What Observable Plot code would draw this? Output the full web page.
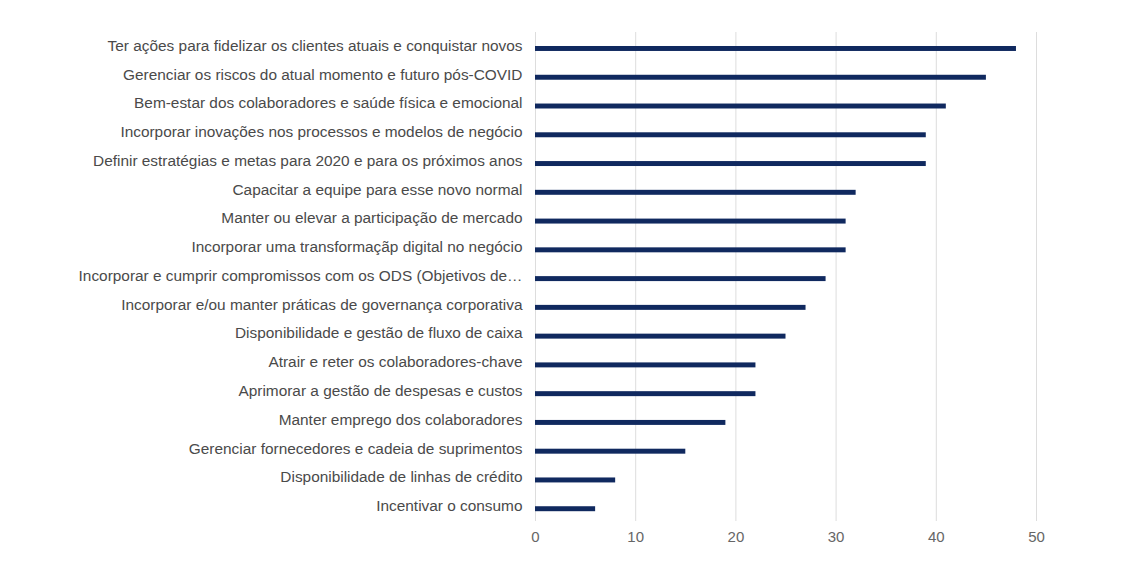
<!DOCTYPE html>
<html><head><meta charset="utf-8">
<script src="https://cdn.jsdelivr.net/npm/d3@7"></script>
<script src="https://cdn.jsdelivr.net/npm/@observablehq/plot@0.6"></script>
<style>body{margin:0;background:#fff}</style>
</head><body><div id="c"></div>
<script>
const categories = [
"Ter ações para fidelizar os clientes atuais e conquistar novos",
"Gerenciar os riscos do atual momento e futuro pós-COVID",
"Bem-estar dos colaboradores e saúde física e emocional",
"Incorporar inovações nos processos e modelos de negócio",
"Definir estratégias e metas para 2020 e para os próximos anos",
"Capacitar a equipe para esse novo normal",
"Manter ou elevar a participação de mercado",
"Incorporar uma transformaçãp digital no negócio",
"Incorporar e cumprir compromissos com os ODS (Objetivos de…",
"Incorporar e/ou manter práticas de governança corporativa",
"Disponibilidade e gestão de fluxo de caixa",
"Atrair e reter os colaboradores-chave",
"Aprimorar a gestão de despesas e custos",
"Manter emprego dos colaboradores",
"Gerenciar fornecedores e cadeia de suprimentos",
"Disponibilidade de linhas de crédito",
"Incentivar o consumo"];
const values = [48,45,41,39,39,32,31,31,29,27,25,22,22,19,15,8,6];
const xTicks = [0,10,20,30,40,50];
const data = categories.map((c,i)=>({c, v: values[i]}));
const chart = Plot.plot({
  width:1131, height:569,
  marginLeft:535, marginRight:95, marginTop:32, marginBottom:48,
  style:{fontFamily:"Liberation Sans, Arial, sans-serif", fontSize:"15.4px", color:"#444"},
  x:{domain:[0,50], ticks:xTicks, label:null},
  y:{domain:categories, padding:0, round:false, label:null},
  marks:[
    Plot.ruleX(xTicks,{stroke:"#ddd", y1:null, y2:null}),
    Plot.barX(data,{x:"v", y:"c", fill:"#10295f", insetTop:14, insetBottom:9.8}),
    Plot.axisX({ticks:xTicks, tickSize:0, tickPadding:10, fill:"#666", fontSize:15}),
    Plot.axisY({tickSize:0, tickPadding:13, dy:-1, fill:"#4a4a4a", fontSize:15.4, textOverflow:null})
  ]
});
document.getElementById("c").append(chart);
</script></body></html>
